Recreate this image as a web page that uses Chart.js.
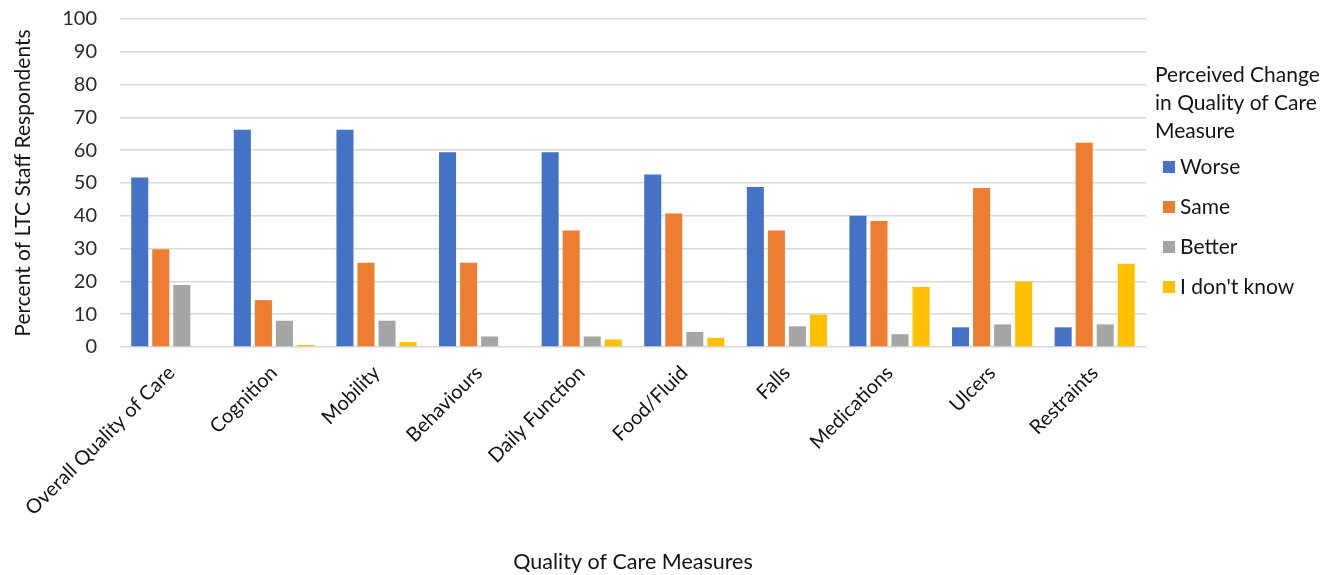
<!DOCTYPE html>
<html>
<head>
<meta charset="utf-8">
<script src="https://cdn.jsdelivr.net/npm/chart.js@4"></script>
<style>
  html, body { margin: 0; padding: 0; background: #ffffff; }
  #wrap { width: 1336px; height: 575px; }
</style>
</head>
<body>
<div id="wrap"><canvas id="chart" width="1336" height="575"></canvas></div>
<script>
// Quality of care measures surveyed
const categories = [
  'Overall Quality of Care', 'Cognition', 'Mobility', 'Behaviours', 'Daily Function',
  'Food/Fluid', 'Falls', 'Medications', 'Ulcers', 'Restraints'
];

// Percent of LTC staff respondents per perceived change
const worse     = [51.7, 66.2, 66.2, 59.4, 59.4, 52.6, 48.8, 40.0, 6.0, 6.0];
const same      = [29.8, 14.3, 25.7, 25.7, 35.5, 40.7, 35.5, 38.4, 48.5, 62.3];
const better    = [18.9, 8.0, 8.0, 3.2, 3.2, 4.6, 6.3, 3.9, 6.9, 6.9];
const dontKnow  = [0, 0.6, 1.5, 0, 2.3, 2.8, 9.9, 18.3, 20.0, 25.4];

const seriesLabels = ['Worse', 'Same', 'Better', "I don't know"];
const seriesColors = ['#4472C4', '#ED7D31', '#A5A5A5', '#FFC000'];
const yTicks = [0, 10, 20, 30, 40, 50, 60, 70, 80, 90, 100];
const legendTitle = ['Perceived Change', 'in Quality of Care', 'Measure'];

const FONT = 'Lato, "Open Sans", "DejaVu Sans", sans-serif';
const TEXT = '#141414';

// Legend drawn to the right of the plot, with a wrapped title
const sideLegend = {
  id: 'sideLegend',
  afterDraw(chart) {
    const ctx = chart.ctx;
    const x0 = chart.chartArea.right + 9;
    ctx.save();
    ctx.fillStyle = TEXT;
    ctx.font = '21px ' + FONT;
    ctx.textAlign = 'left';
    ctx.textBaseline = 'middle';
    legendTitle.forEach((line, i) => {
      ctx.fillText(line, x0, 75 + i * 28);
    });
    chart.data.datasets.forEach((ds, i) => {
      const cy = 167 + i * 40;
      ctx.fillStyle = ds.backgroundColor;
      ctx.fillRect(x0 + 8, cy - 6, 12, 12);
      ctx.fillStyle = TEXT;
      ctx.fillText(ds.label, x0 + 25, cy);
    });
    ctx.restore();
  }
};

const values = [worse, same, better, dontKnow];

new Chart(document.getElementById('chart'), {
  type: 'bar',
  data: {
    labels: categories,
    datasets: seriesLabels.map((label, i) => ({
      label: label,
      data: values[i],
      backgroundColor: seriesColors[i],
      borderWidth: 0,
      categoryPercentage: 0.82,
      barPercentage: 0.81
    }))
  },
  options: {
    responsive: false,
    animation: false,
    layout: { padding: { top: 19, right: 190, bottom: 0, left: 0 } },
    plugins: {
      legend: { display: false },
      tooltip: { enabled: false }
    },
    scales: {
      x: {
        grid: { display: false },
        border: { display: false },
        ticks: {
          color: TEXT,
          font: { family: FONT, size: 20 },
          maxRotation: 45,
          minRotation: 45,
          padding: 6
        },
        title: {
          display: true,
          text: 'Quality of Care Measures',
          color: TEXT,
          font: { family: FONT, size: 21.5 },
          padding: { top: 1, bottom: 0 }
        },
        afterFit(scale) { scale.height = 228; }
      },
      y: {
        min: 0,
        max: 100,
        afterBuildTicks(scale) { scale.ticks = yTicks.map(v => ({ value: v })); },
        grid: { color: '#d9d9d9', lineWidth: 1.5, drawTicks: false },
        border: { display: false },
        ticks: {
          color: '#2a2a2a',
          font: { family: FONT, size: 20 },
          padding: 23
        },
        title: {
          display: true,
          text: 'Percent of LTC Staff Respondents',
          color: TEXT,
          font: { family: FONT, size: 21 },
          padding: { top: 11, bottom: 0 }
        },
        afterFit(scale) {
          scale.width = 120;
          // tick label padding should not push the plot area down
          scale.paddingTop = 0;
          scale.paddingBottom = 0;
        }
      }
    }
  },
  plugins: [sideLegend]
});
</script>
</body>
</html>
